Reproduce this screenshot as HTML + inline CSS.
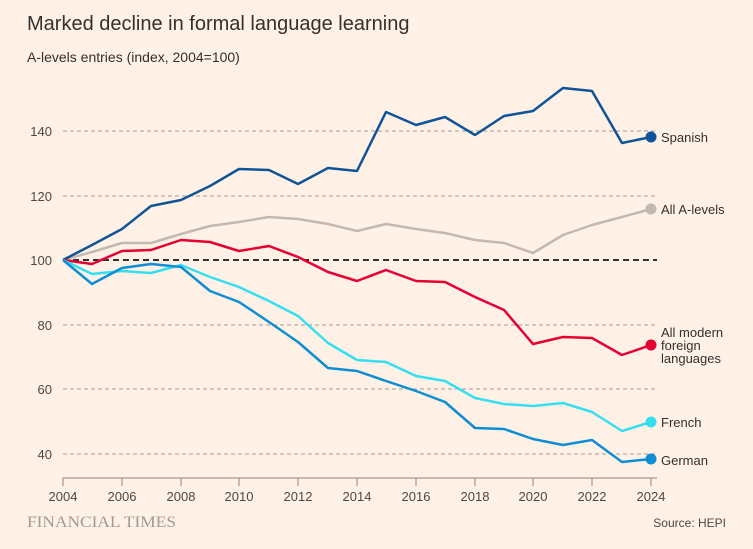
<!DOCTYPE html>
<html><head><meta charset="utf-8"><style>
body{margin:0;background:#fff1e5;}
svg{display:block;font-family:"Liberation Sans",sans-serif;}
</style></head><body>
<svg width="753" height="549" viewBox="0 0 753 549">
<rect width="753" height="549" fill="#fff1e5"/>
<text x="27" y="30" font-size="20" fill="#33302e">Marked decline in formal language learning</text>
<text x="27" y="62" font-size="14" fill="#33302e">A-levels entries (index, 2004=100)</text>
<g stroke="#a09a95" stroke-dasharray="4,3" stroke-width="1">
<line x1="63" x2="657" y1="131" y2="131"/>
<line x1="63" x2="657" y1="196" y2="196"/>
<line x1="63" x2="657" y1="325" y2="325"/>
<line x1="63" x2="657" y1="389" y2="389"/>
<line x1="63" x2="657" y1="454" y2="454"/>
</g>
<g font-size="13" fill="#4d4845" text-anchor="end">
<text x="52" y="136">140</text><text x="52" y="201">120</text><text x="52" y="265">100</text>
<text x="52" y="330">80</text><text x="52" y="394">60</text><text x="52" y="459">40</text>
</g>
<line x1="63" x2="657" y1="260" y2="260" stroke="#33302e" stroke-width="2" stroke-dasharray="6,4"/>
<g fill="none" stroke-width="2.5" stroke-linejoin="round">
<polyline stroke="#c2b9b3" points="63,260 92,252 122,243 151,243 181,234 210,226 239,222 269,217 298,219 328,224 357,231 386,224 416,229 445,233 475,240 504,243 533,253 563,235 592,225 622,217 651,209"/>
<polyline stroke="#0f5499" points="63,260 92,245 122,229 151,206 181,200 210,186 239,169 269,170 298,184 328,168 357,171 386,112 416,125 445,117 475,135 504,116 533,111 563,88 592,91 622,143 651,137"/>
<polyline stroke="#e50032" points="63,260 92,264 122,251 151,250 181,240 210,242 239,251 269,246 298,257 328,272 357,281 386,270 416,281 445,282 475,297 504,310 533,344 563,337 592,338 622,355 651,345"/>
<polyline stroke="#36def1" points="63,260 92,274 122,271 151,273 181,265 210,277 239,287 269,301 298,316 328,343 357,360 386,362 416,376 445,381 475,398 504,404 533,406 563,403 592,412 622,431 651,422"/>
<polyline stroke="#0d8dd4" points="63,260 92,284 122,268 151,264 181,267 210,291 239,302 269,322 298,342 328,368 357,371 386,381 416,391 445,402 475,428 504,429 533,439 563,445 592,440 622,462 651,459"/>
</g>
<circle cx="651" cy="137" r="5.5" fill="#0f5499"/>
<circle cx="651" cy="209" r="5.5" fill="#c2b9b3"/>
<circle cx="651" cy="345" r="5.5" fill="#e50032"/>
<circle cx="651" cy="422" r="5.5" fill="#36def1"/>
<circle cx="651" cy="459" r="5.5" fill="#0d8dd4"/>
<g font-size="13" fill="#33302e">
<text x="661" y="142">Spanish</text>
<text x="661" y="214">All A-levels</text>
<text x="661" y="337">All modern</text>
<text x="661" y="350">foreign</text>
<text x="661" y="363">languages</text>
<text x="661" y="427">French</text>
<text x="661" y="465">German</text>
</g>
<line x1="63" x2="657" y1="478" y2="478" stroke="#8c8580" stroke-width="1"/>
<g stroke="#8c8580"><line x1="63" x2="63" y1="478" y2="486"/><line x1="122" x2="122" y1="478" y2="486"/><line x1="181" x2="181" y1="478" y2="486"/><line x1="239" x2="239" y1="478" y2="486"/><line x1="298" x2="298" y1="478" y2="486"/><line x1="357" x2="357" y1="478" y2="486"/><line x1="416" x2="416" y1="478" y2="486"/><line x1="475" x2="475" y1="478" y2="486"/><line x1="533" x2="533" y1="478" y2="486"/><line x1="592" x2="592" y1="478" y2="486"/><line x1="651" x2="651" y1="478" y2="486"/></g>
<g font-size="13" fill="#4d4845" text-anchor="middle">
<text x="63" y="501">2004</text><text x="122" y="501">2006</text><text x="181" y="501">2008</text><text x="239" y="501">2010</text><text x="298" y="501">2012</text><text x="357" y="501">2014</text><text x="416" y="501">2016</text><text x="475" y="501">2018</text><text x="533" y="501">2020</text><text x="592" y="501">2022</text><text x="651" y="501">2024</text>
</g>
<text x="27" y="527" font-size="16" font-family="Liberation Serif,serif" fill="#a09a93" textLength="149" lengthAdjust="spacingAndGlyphs">FINANCIAL TIMES</text>
<text x="726" y="527" font-size="12" fill="#4d4845" text-anchor="end">Source: HEPI</text>
</svg>
</body></html>
